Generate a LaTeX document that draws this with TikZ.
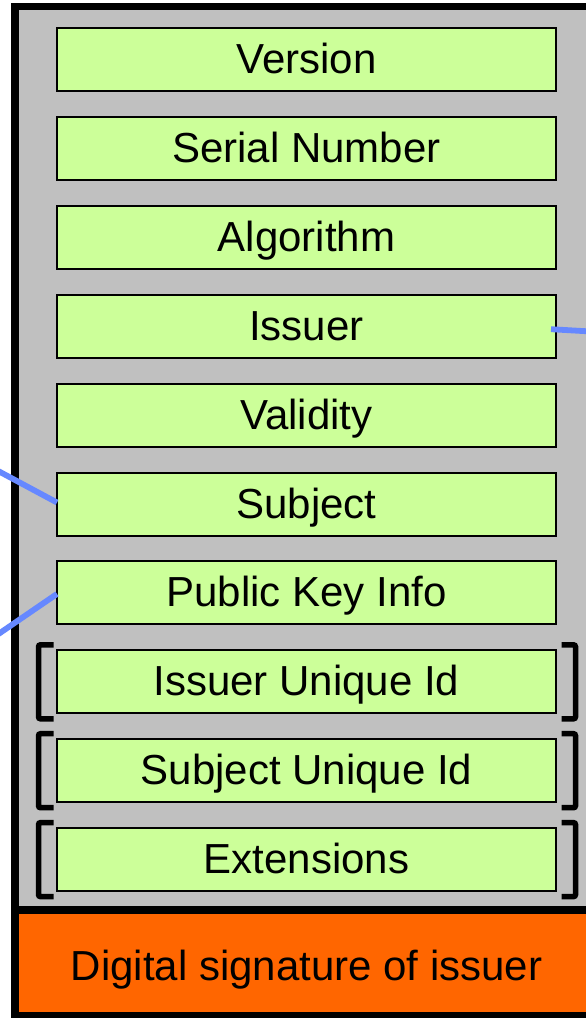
\documentclass[tikz,border=0pt]{standalone}
\usepackage{fontspec}
\setmainfont{Liberation Sans}
\usetikzlibrary{calc}
\definecolor{fieldgreen}{RGB}{204,255,153}
\definecolor{framegray}{RGB}{192,192,192}
\definecolor{sigorange}{RGB}{255,102,0}
\definecolor{linkblue}{RGB}{102,136,255}
\tikzset{
  field/.style={draw=black, fill=fieldgreen, line width=2pt, minimum width=499pt,
    minimum height=63pt, inner sep=0pt, outer sep=0pt, text height=30pt, text depth=2pt,
    font=\fontsize{42}{50}\selectfont},
  sigbox/.style={fill=sigorange, minimum width=575pt, minimum height=98pt, inner sep=0pt,
    outer sep=0pt, text height=34pt, text depth=0pt, font=\fontsize{42}{50}\selectfont},
  optbracket/.style={draw=black, line width=5.5pt, rounded corners=2pt},
  link/.style={draw=linkblue, line width=5.8pt}
}
\begin{document}
\begin{tikzpicture}[x=1pt,y=-1pt]
\useasboundingbox (0,0) rectangle (586,1018);
% certificate frame
\fill[black] (11,3) rectangle (610,1030);
\fill[framegray] (19,10) rectangle (610,906);
\node[sigbox] (sig) at (306.5,963) {Digital signature of issuer};
% fields
\foreach \name/\txt [count=\i from 0] in {ver/Version, ser/Serial Number, alg/Algorithm,
  iss/Issuer, val/Validity, sub/Subject, pki/Public Key Info, iuid/Issuer Unique Id,
  suid/Subject Unique Id, ext/Extensions}
  \node[field] (\name) at (306.5,{59.5+88.9*\i}) {\txt};
% optional-field brackets
\foreach \name in {iuid,suid,ext}{
  \draw[optbracket] ($(\name.north west)+(-3.5,-5.5)$) -- ($(\name.north west)+(-18.5,-5.5)$)
    -- ($(\name.south west)+(-18.5,5.5)$) -- ($(\name.south west)+(-3.5,5.5)$);
  \draw[optbracket] ($(\name.north east)+(5.5,-5.5)$) -- ($(\name.north east)+(19.5,-5.5)$)
    -- ($(\name.south east)+(19.5,5.5)$) -- ($(\name.south east)+(5.5,5.5)$);
}
% links
\coordinate (issout) at (600,332);
\coordinate (subout) at (-10,466.6);
\coordinate (pkiout) at (-10,639.8);
\draw[link] ($(iss.east)+(-5,3)$) -- (issout);
\draw[link] ($(sub.west)+(0,-1.5)$) -- (subout);
\draw[link] ($(pki.west)+(0,1)$) -- (pkiout);
\end{tikzpicture}
\end{document}
